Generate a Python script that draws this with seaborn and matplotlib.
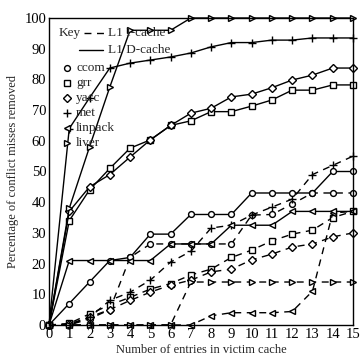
import matplotlib
matplotlib.use("Agg")
import matplotlib.pyplot as plt
import seaborn as sns
import pandas as pd

# victim cache entries
entries = list(range(16))

# L1 D-cache (solid lines)
ccom_d = [0, 7, 14, 21, 22, 29.6, 29.6, 36, 36, 36, 43, 43, 43, 43, 50, 50]
grr_d = [0, 34, 44, 51, 57.6, 60.3, 65, 66.5, 69.5, 69.5, 71.3, 73.3, 76.5, 76.5, 78.2, 78.2]
yacc_d = [0, 37, 45, 49, 54.7, 60.3, 65, 69, 70.6, 74.3, 75.2, 77.3, 79.8, 81.4, 83.7, 83.7]
met_d = [0, 64, 74, 83.7, 85.3, 86.3, 87.3, 88.6, 90.6, 92, 92, 92.8, 92.8, 93.5, 93.5, 93.5]
linpack_d = [0, 21, 21, 21, 21, 21, 26.4, 26.4, 26.4, 32.5, 32.5, 32.5, 37, 37, 37, 37]
liver_d = [0, 38, 58, 77.5, 96, 96, 96, 100, 100, 100, 100, 100, 100, 100, 100, 100]

# L1 I-cache (dashed lines)
ccom_i = [0, 0, 2, 5, 22, 26.4, 26.4, 26.4, 26.4, 26.4, 35.8, 36, 39.4, 43, 43, 43]
grr_i = [0, 0.5, 3.6, 6.5, 9, 11.7, 13.5, 16.3, 18.2, 22, 24.4, 27.4, 29.6, 30.9, 35, 37]
yacc_i = [0, 0.3, 2.6, 5, 8, 10.7, 13, 14.6, 17.3, 18.2, 21.2, 23.1, 25.4, 26.4, 28.7, 30]
met_i = [0, 0, 2.5, 8, 10.7, 14.6, 20.5, 24, 31.6, 32.5, 35.8, 38.4, 41, 49, 52, 55]
linpack_i = [0, 0, 0, 0, 0, 0, 0, 0, 3, 4, 4, 4, 4.4, 11, 36.5, 37]
liver_i = [0, 0, 0, 0, 0, 0, 0, 14, 14, 14, 14, 14, 14, 14, 14, 14]

programs = ["ccom", "grr", "yacc", "met", "linpack", "liver"]
markers = {"ccom": "o", "grr": "s", "yacc": "D", "met": "+", "linpack": "<", "liver": ">"}
msizes = {"ccom": 4.2, "grr": 4.2, "yacc": 4, "met": 6, "linpack": 4.2, "liver": 4.2}

d_series = {"ccom": ccom_d, "grr": grr_d, "yacc": yacc_d, "met": met_d,
            "linpack": linpack_d, "liver": liver_d}
i_series = {"ccom": ccom_i, "grr": grr_i, "yacc": yacc_i, "met": met_i,
            "linpack": linpack_i, "liver": liver_i}

sns.set_style("white")
plt.rcParams["font.family"] = ["Liberation Serif", "DejaVu Serif"]

fig = plt.figure(figsize=(3.64, 3.63), dpi=100)
ax = fig.add_axes([0.1346, 0.1047, 0.8352, 0.8457])

for cache, series, ls in [("I", i_series, (0, (5, 4))), ("D", d_series, "-")]:
    for prog in programs:
        df = pd.DataFrame({"entries": entries, "pct": series[prog]})
        sns.lineplot(data=df, x="entries", y="pct", ax=ax, color="black",
                     linewidth=1.0, linestyle=ls, marker=markers[prog],
                     markersize=msizes[prog], markerfacecolor="white",
                     markeredgecolor="black", markeredgewidth=1.0,
                     clip_on=False, legend=False)

ax.set_xlim(0, 15)
ax.set_ylim(0, 100)
ax.set_xticks(range(16))
ax.set_yticks(range(0, 101, 10))
ax.tick_params(axis="both", length=0, pad=2, labelsize=10.5, colors="black")
for s in ax.spines.values():
    s.set_color("black")
    s.set_linewidth(1.0)

ax.set_xlabel("Number of entries in victim cache", fontsize=9, labelpad=2)
ax.set_ylabel("Percentage of conflict misses removed", fontsize=9, labelpad=4)

# key
tr = ax.transAxes
ax.text(0.03, 0.951, "Key", transform=tr, fontsize=9.5, va="center")
ax.plot([0.115, 0.181], [0.951, 0.951], transform=tr, color="black",
        linewidth=1.0, linestyle=(0, (5, 4)))
ax.text(0.194, 0.951, "L1 I-cache", transform=tr, fontsize=9.5, va="center")
ax.plot([0.10, 0.178], [0.896, 0.896], transform=tr, color="black", linewidth=1.0)
ax.text(0.194, 0.896, "L1 D-cache", transform=tr, fontsize=9.5, va="center")

key_y = [0.837, 0.788, 0.739, 0.69, 0.642, 0.593]
for prog, yy in zip(programs, key_y):
    ax.plot([0.059], [yy], transform=tr, marker=markers[prog], markersize=msizes[prog],
            markerfacecolor="white", markeredgecolor="black", markeredgewidth=1.0,
            linestyle="none")
    ax.text(0.089, yy, prog, transform=tr, fontsize=9.5, va="center")

fig.savefig("out.png", dpi=100)
